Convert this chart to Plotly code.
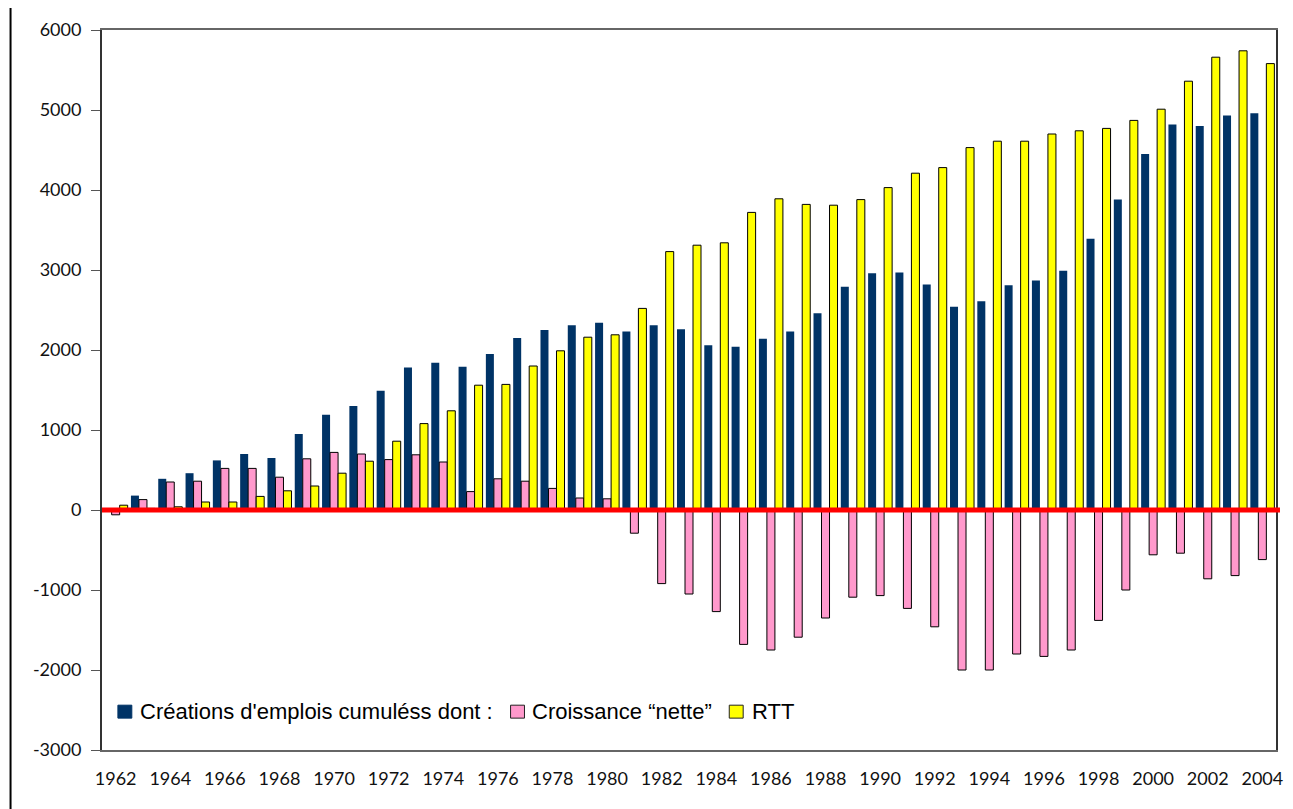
import plotly.graph_objects as go

years = list(range(1962, 2005))
creations = [0, 180, 390, 460, 620, 700, 650, 950, 1190, 1300, 1490, 1780, 1840, 1790, 1950,
             2150, 2250, 2310, 2340, 2230, 2310, 2260, 2060, 2040, 2140, 2230, 2460, 2790, 2960,
             2970, 2820, 2540, 2610, 2810, 2870, 2990, 3390, 3880, 4450, 4820, 4800, 4930, 4960]
croissance = [-60, 130, 350, 360, 520, 520, 410, 640, 720, 700, 630, 690, 600, 230, 390,
              360, 270, 150, 140, -290, -920, -1050, -1270, -1680, -1750, -1590, -1350, -1090, -1070,
              -1230, -1460, -2000, -2000, -1800, -1830, -1750, -1380, -1000, -560, -540, -860, -820, -620]
rtt = [60, 20, 40, 100, 100, 170, 240, 300, 460, 610, 860, 1080, 1240, 1560, 1570,
       1800, 1990, 2160, 2190, 2520, 3230, 3310, 3340, 3720, 3890, 3820, 3810, 3880, 4030,
       4210, 4280, 4530, 4610, 4610, 4700, 4740, 4770, 4870, 5010, 5360, 5660, 5740, 5580]
names = ["Créations d'emplois cumuléss dont :", "Croissance \u201cnette\u201d", "RTT"]
colors = ["#003366", "#FF99CC", "#FFFF00"]
y_ticks = list(range(-3000, 6001, 1000))
y_ticktext = [str(v) for v in y_ticks]  # plain hyphen minus as in the original

# page geometry (the page body adds an 8px offset)
OFF = 8
PL, PT, PW, PH = 102, 27, 1181, 723


def px(X):
    return (X - PL) / PW


def py(Y):
    return (PT + PH - Y) / PH


fig = go.Figure()
fig.add_trace(go.Bar(x=years, y=creations, name=names[0],
                     marker=dict(color=colors[0], line=dict(width=0))))
fig.add_trace(go.Bar(x=years, y=croissance, name=names[1],
                     marker=dict(color=colors[1], line=dict(color="black", width=1))))
fig.add_trace(go.Bar(x=years, y=rtt, name=names[2],
                     marker=dict(color=colors[2], line=dict(color="black", width=1))))

shapes = [
    dict(type="line", xref="paper", yref="y", x0=0, x1=px(1287), y0=0, y1=0,
         line=dict(color="#FF0000", width=5), layer="above"),
    dict(type="line", xref="paper", yref="paper", x0=px(10), x1=px(10),
         y0=py(812), y1=py(-5), line=dict(color="black", width=2), layer="above"),
]
annotations = []
# manual legend
leg_sq = [(118, 132), (513, 527), (733, 747)]
leg_tx = [138, 533, 754]
sq_top, sq_bot = 705, 718
for i in range(3):
    x0, x1 = leg_sq[i]
    shapes.append(dict(type="rect", xref="paper", yref="paper",
                       x0=px(x0), x1=px(x1), y0=py(sq_bot), y1=py(sq_top),
                       fillcolor=colors[i],
                       line=dict(color="#222222" if i else colors[i], width=1)))
    annotations.append(dict(xref="paper", yref="paper", x=px(leg_tx[i]), y=py(711.5),
                            xanchor="left", yanchor="middle", showarrow=False,
                            text=names[i],
                            font=dict(family="Liberation Sans, Arial", size=22, color="black")))

fig.update_layout(
    width=1293 - OFF, height=809 - OFF,
    margin=dict(l=PL - OFF, r=1293 - OFF - (PL - OFF) - PW, t=PT - OFF, b=809 - OFF - (PT - OFF) - PH),
    paper_bgcolor="white", plot_bgcolor="white",
    barmode="group", bargap=0.12, bargroupgap=0,
    showlegend=False,
    shapes=shapes, annotations=annotations,
    xaxis=dict(range=[1961.5, 2004.5], tickmode="linear", tick0=1962, dtick=2,
               showgrid=False, zeroline=False, showline=True, linecolor="#666666",
               linewidth=1.5, mirror=True, ticks="", ticklabelstandoff=12,
               tickfont=dict(family="Lato, Open Sans", size=18, color="#111111")),
    yaxis=dict(range=[-3000, 6000], tickmode="array", tickvals=y_ticks, ticktext=y_ticktext,
               showgrid=False, zeroline=False,
               showline=True, linecolor="#333333", linewidth=2, mirror=True,
               ticks="outside", ticklen=9, tickcolor="#555555", tickwidth=1,
               ticklabelstandoff=6,
               tickfont=dict(family="Lato, Open Sans", size=18, color="#111111")),
)

fig.write_html("out.html")
